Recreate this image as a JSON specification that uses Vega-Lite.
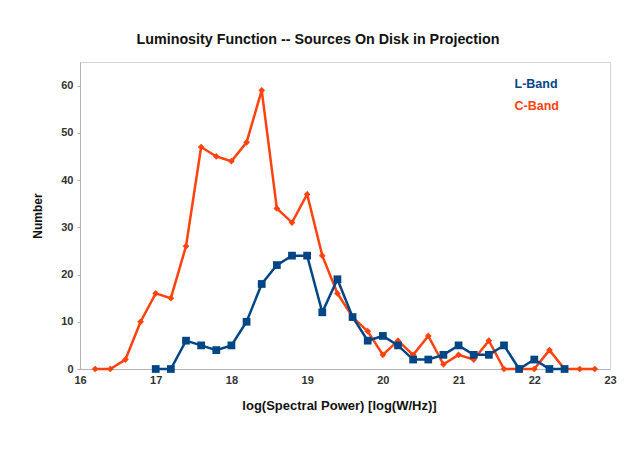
{
  "$schema": "https://vega.github.io/schema/vega-lite/v6.json",
  "width": 530,
  "height": 307,
  "autosize": "none",
  "padding": {"left": 80, "top": 62, "right": 15, "bottom": 87},
  "background": "white",
  "config": {
    "font": "Liberation Sans",
    "view": {"stroke": "#d4d4d4", "strokeWidth": 1},
    "axis": {"grid": false, "labelFont": "Liberation Sans", "labelFontWeight": "bold", "labelFontSize": 11, "labelColor": "#333333", "titleFont": "Liberation Sans", "titleFontWeight": "bold", "titleFontSize": 12, "titleColor": "#111111", "domainColor": "#b3b3b3", "tickColor": "#b3b3b3"}
  },
  "title": {"text": "Luminosity Function -- Sources On Disk in Projection", "font": "Liberation Sans", "fontSize": 14.3, "fontWeight": "bold", "color": "#111111", "anchor": "middle", "offset": 15, "dx": -27},
  "data": {"values": [
    {"x": 16.2, "n": 0, "band": "C-Band"}, {"x": 16.4, "n": 0, "band": "C-Band"}, {"x": 16.6, "n": 2, "band": "C-Band"}, {"x": 16.8, "n": 10, "band": "C-Band"},
    {"x": 17.0, "n": 16, "band": "C-Band"}, {"x": 17.2, "n": 15, "band": "C-Band"}, {"x": 17.4, "n": 26, "band": "C-Band"}, {"x": 17.6, "n": 47, "band": "C-Band"},
    {"x": 17.8, "n": 45, "band": "C-Band"}, {"x": 18.0, "n": 44, "band": "C-Band"}, {"x": 18.2, "n": 48, "band": "C-Band"}, {"x": 18.4, "n": 59, "band": "C-Band"},
    {"x": 18.6, "n": 34, "band": "C-Band"}, {"x": 18.8, "n": 31, "band": "C-Band"}, {"x": 19.0, "n": 37, "band": "C-Band"}, {"x": 19.2, "n": 24, "band": "C-Band"},
    {"x": 19.4, "n": 16, "band": "C-Band"}, {"x": 19.6, "n": 11, "band": "C-Band"}, {"x": 19.8, "n": 8, "band": "C-Band"}, {"x": 20.0, "n": 3, "band": "C-Band"},
    {"x": 20.2, "n": 6, "band": "C-Band"}, {"x": 20.4, "n": 3, "band": "C-Band"}, {"x": 20.6, "n": 7, "band": "C-Band"}, {"x": 20.8, "n": 1, "band": "C-Band"},
    {"x": 21.0, "n": 3, "band": "C-Band"}, {"x": 21.2, "n": 2, "band": "C-Band"}, {"x": 21.4, "n": 6, "band": "C-Band"}, {"x": 21.6, "n": 0, "band": "C-Band"},
    {"x": 21.8, "n": 0, "band": "C-Band"}, {"x": 22.0, "n": 0, "band": "C-Band"}, {"x": 22.2, "n": 4, "band": "C-Band"}, {"x": 22.4, "n": 0, "band": "C-Band"},
    {"x": 22.6, "n": 0, "band": "C-Band"}, {"x": 22.8, "n": 0, "band": "C-Band"},
    {"x": 17.0, "n": 0, "band": "L-Band"}, {"x": 17.2, "n": 0, "band": "L-Band"}, {"x": 17.4, "n": 6, "band": "L-Band"}, {"x": 17.6, "n": 5, "band": "L-Band"},
    {"x": 17.8, "n": 4, "band": "L-Band"}, {"x": 18.0, "n": 5, "band": "L-Band"}, {"x": 18.2, "n": 10, "band": "L-Band"}, {"x": 18.4, "n": 18, "band": "L-Band"},
    {"x": 18.6, "n": 22, "band": "L-Band"}, {"x": 18.8, "n": 24, "band": "L-Band"}, {"x": 19.0, "n": 24, "band": "L-Band"}, {"x": 19.2, "n": 12, "band": "L-Band"},
    {"x": 19.4, "n": 19, "band": "L-Band"}, {"x": 19.6, "n": 11, "band": "L-Band"}, {"x": 19.8, "n": 6, "band": "L-Band"}, {"x": 20.0, "n": 7, "band": "L-Band"},
    {"x": 20.2, "n": 5, "band": "L-Band"}, {"x": 20.4, "n": 2, "band": "L-Band"}, {"x": 20.6, "n": 2, "band": "L-Band"}, {"x": 20.8, "n": 3, "band": "L-Band"},
    {"x": 21.0, "n": 5, "band": "L-Band"}, {"x": 21.2, "n": 3, "band": "L-Band"}, {"x": 21.4, "n": 3, "band": "L-Band"}, {"x": 21.6, "n": 5, "band": "L-Band"},
    {"x": 21.8, "n": 0, "band": "L-Band"}, {"x": 22.0, "n": 2, "band": "L-Band"}, {"x": 22.2, "n": 0, "band": "L-Band"}, {"x": 22.4, "n": 0, "band": "L-Band"}
  ]},
  "encoding": {
    "x": {"field": "x", "type": "quantitative", "scale": {"domain": [16, 23], "nice": false, "zero": false},
      "axis": {"values": [16, 17, 18, 19, 20, 21, 22, 23], "ticks": false, "labelPadding": 5, "title": "log(Spectral Power) [log(W/Hz)]", "titleFontSize": 13, "titlePadding": 14, "titleX": 259, "labelFlush": false}},
    "y": {"field": "n", "type": "quantitative", "scale": {"domain": [0, 65], "nice": false},
      "axis": {"values": [0, 10, 20, 30, 40, 50, 60], "tickSize": 3, "labelPadding": 4, "title": "Number", "titlePadding": 16}},
    "color": {"field": "band", "type": "nominal", "scale": {"domain": ["L-Band", "C-Band"], "range": ["#004586", "#ff420e"]},
      "legend": {"orient": "none", "legendX": 422, "legendY": 16, "title": null, "symbolSize": 0, "symbolStrokeWidth": 0, "symbolOpacity": 0, "labelFontSize": 12.5, "labelFontWeight": "bold", "labelFont": "Liberation Sans", "rowPadding": 9, "labelOffset": 0,
        "encode": {"labels": {"update": {"fill": {"scale": "color", "field": "value"}}}}}}
  },
  "layer": [
    {"mark": {"type": "line", "strokeWidth": 2.5}, "encoding": {"detail": {"field": "band"}}},
    {"mark": {"type": "point", "filled": true, "opacity": 1},
      "encoding": {
        "shape": {"field": "band", "type": "nominal", "scale": {"domain": ["L-Band", "C-Band"], "range": ["square", "diamond"]}, "legend": null},
        "size": {"field": "band", "type": "nominal", "scale": {"domain": ["L-Band", "C-Band"], "range": [60, 45]}, "legend": null}
      }}
  ]
}
